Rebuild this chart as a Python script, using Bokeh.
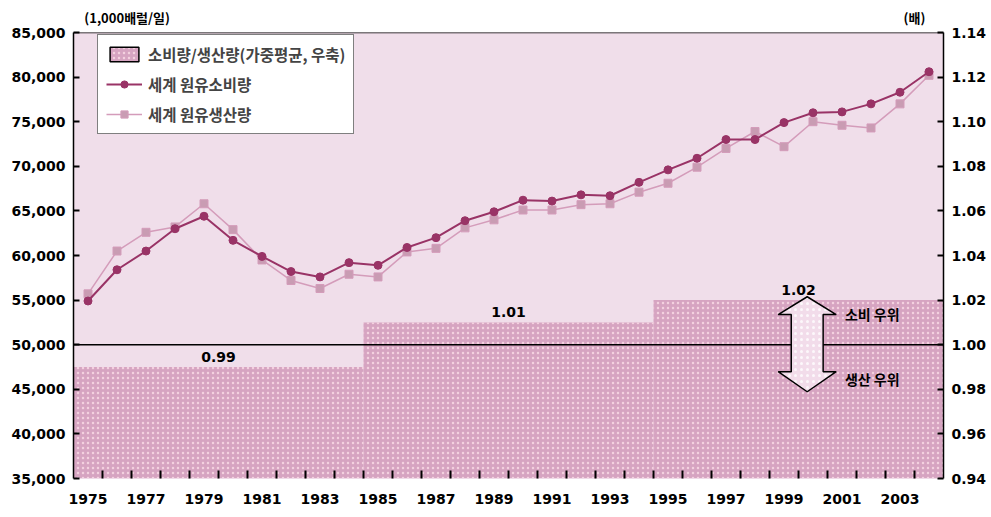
from bokeh.plotting import figure
from bokeh.models import (Range1d, LinearAxis, FixedTicker, NumeralTickFormatter, Span,
                          Label, Legend, LegendItem, ColumnDataSource)
from bokeh.core.properties import value
from bokeh.embed import file_html
from bokeh.resources import INLINE

# ---------------- data ----------------
years = list(range(1975, 2005))
consumption = [54900, 58400, 60500, 63000, 64400, 61700, 59900, 58200, 57600, 59200,
               58900, 60900, 62000, 63900, 64900, 66200, 66100, 66800, 66700, 68200,
               69600, 70900, 73000, 73000, 74900, 76000, 76100, 77000, 78300, 80600]
production = [55700, 60500, 62600, 63200, 65800, 62900, 59500, 57200, 56300, 57900,
              57600, 60400, 60800, 63100, 64000, 65100, 65100, 65700, 65800, 67100,
              68100, 69900, 72000, 73900, 72200, 75000, 74600, 74300, 77000, 80200]
decade_start = [1975, 1985, 1995]
decade_end = [1984, 1994, 2004]
ratio = [0.99, 1.01, 1.02]
ratio_labels = ["0.99", "1.01", "1.02"]
year_ticks = list(range(1975, 2004, 2))

LEGEND_BAR = "소비량/생산량(가중평균, 우축)"
LEGEND_CONS = "세계 원유소비량"
LEGEND_PROD = "세계 원유생산량"
UNIT_LEFT = "(1,000배럴/일)"
UNIT_RIGHT = "(배)"
TXT_CONS = "소비 우위"
TXT_PROD = "생산 우위"

# ---------------- styles ----------------
NUM_FONT = "DejaVu Sans"
KR_FONT = "Noto Sans CJK KR"
BG = "#F0DEEA"
BAR = "#D6A4C1"
BAR_DOT = "#F6D6E2"
CONS_C = "#993366"
PROD_C = "#D49CBA"
PROD_FILL = "#C99CB3"

x_lo, x_hi = years[0] - 0.5, years[-1] + 0.5
y_lo, y_hi = 35000, 85000
r_lo, r_hi = 0.94, 1.14

p = figure(width=989, height=512, x_range=Range1d(x_lo, x_hi), y_range=Range1d(y_lo, y_hi),
           output_backend="svg", toolbar_location=None,
           min_border_left=73, min_border_right=42, min_border_top=32, min_border_bottom=34)
p.extra_y_ranges = {"ratio": Range1d(r_lo, r_hi)}
p.extra_x_ranges = {"legend_only": Range1d(-10, -9)}
p.background_fill_color = BG
p.border_fill_color = "white"
p.outline_line_color = None
p.xgrid.visible = False
p.ygrid.visible = False

# ratio bars (right axis)
bar_src = ColumnDataSource(dict(
    left=[s - 0.5 for s in decade_start],
    right=[e + 0.5 for e in decade_end],
    top=ratio,
    bottom=[r_lo] * len(ratio),
    mid=[(s + e) / 2 for s, e in zip(decade_start, decade_end)],
    label=ratio_labels,
))
bars = p.quad(left="left", right="right", top="top", bottom="bottom", source=bar_src,
              y_range_name="ratio", fill_color=BAR, line_color=None,
              hatch_pattern="dot", hatch_color=BAR_DOT, hatch_scale=5, hatch_alpha=0.9)
bars.level = "image"

# same bars on an off-screen range: only used for the legend swatch (with outline)
swatch = p.quad(left="left", right="right", top="top", bottom="bottom", source=bar_src,
                y_range_name="ratio", x_range_name="legend_only",
                fill_color=BAR, line_color="black", line_width=1.5,
                hatch_pattern="dot", hatch_color=BAR_DOT, hatch_scale=5, hatch_alpha=0.9)

p.text(x="mid", y="top", text="label", source=bar_src, y_range_name="ratio",
       text_font=value(NUM_FONT), text_font_style="bold", text_font_size="14px",
       text_align="center", text_baseline="bottom", y_offset=-5, text_color="black")

# 1.00 reference line
one_line = Span(location=1.0, dimension="width", y_range_name="ratio",
                line_color="black", line_width=1.5, level="underlay")
p.add_layout(one_line)
top_line = Span(location=y_hi, dimension="width", line_color="black", line_width=1.5)
p.add_layout(top_line)

# double arrow (annotation)
ax = 1999.8
shaft_hw, head_hw = 0.55, 1.0
tip_top, base_top, base_bot, tip_bot = 1.0215, 1.0135, 0.9879, 0.9789
arr_x = [ax, ax + head_hw, ax + shaft_hw, ax + shaft_hw, ax + head_hw, ax,
         ax - head_hw, ax - shaft_hw, ax - shaft_hw, ax - head_hw]
arr_y = [tip_top, base_top, base_top, base_bot, base_bot, tip_bot,
         base_bot, base_bot, base_top, base_top]
p.patch(arr_x, arr_y, y_range_name="ratio", fill_color="#F2DCEA", line_color="black",
        line_width=1.5, hatch_pattern="dot", hatch_color="white", hatch_scale=6, hatch_alpha=0.8)

for txt, yy in [(TXT_CONS, 1.0139), (TXT_PROD, 0.9848)]:
    p.add_layout(Label(x=2001.1, y=yy, y_range_name="ratio", text=txt,
                       text_font=KR_FONT, text_font_style="bold", text_font_size="14px",
                       text_baseline="middle", text_align="left", text_color="black"))

# lines
src = ColumnDataSource(dict(year=years, cons=consumption, prod=production))
prod_line = p.line("year", "prod", source=src, line_color=PROD_C, line_width=1.5)
prod_pts = p.scatter("year", "prod", source=src, marker="square", size=8,
                     fill_color=PROD_FILL, line_color=PROD_C)
cons_line = p.line("year", "cons", source=src, line_color=CONS_C, line_width=2)
cons_pts = p.scatter("year", "cons", source=src, marker="circle", size=8,
                     fill_color=CONS_C, line_color=CONS_C)

legend = Legend(items=[LegendItem(label=LEGEND_BAR, renderers=[swatch], index=0),
                       LegendItem(label=LEGEND_CONS, renderers=[cons_line, cons_pts]),
                       LegendItem(label=LEGEND_PROD, renderers=[prod_line, prod_pts])],
                location=(24, 344))
legend.border_line_color = "black"
legend.border_line_width = 1.5
legend.background_fill_color = "white"
legend.background_fill_alpha = 1
legend.label_text_font = KR_FONT
legend.label_text_font_style = "bold"
legend.label_text_font_size = "15.5px"
legend.glyph_width = 36
legend.glyph_height = 18
legend.label_height = 20
legend.spacing = 8
legend.padding = 8
legend.margin = 0
legend.label_standoff = 6
p.add_layout(legend)

# axes
p.xaxis.ticker = FixedTicker(ticks=year_ticks, minor_ticks=[y + 0.5 for y in years[:-1]])
p.xaxis.axis_line_color = None
p.xaxis.major_tick_line_color = None
p.xaxis.minor_tick_in = 8
p.xaxis.minor_tick_out = 0
p.xaxis.minor_tick_line_color = "black"
p.xaxis.minor_tick_line_width = 2
p.xaxis.major_label_standoff = 9
p.xaxis.major_label_text_font = NUM_FONT
p.xaxis.major_label_text_font_style = "bold"
p.xaxis.major_label_text_font_size = "14px"
p.xaxis.major_label_text_color = "black"

p.yaxis.ticker = FixedTicker(ticks=list(range(y_lo, y_hi + 1, 5000)))
p.yaxis.formatter = NumeralTickFormatter(format="0,0")

ry = LinearAxis(y_range_name="ratio",
                ticker=FixedTicker(ticks=[round(r_lo + 0.02 * i, 2) for i in range(11)]),
                formatter=NumeralTickFormatter(format="0.00"))
p.add_layout(ry, "right")

for a in [p.yaxis[0], ry]:
    a.axis_line_color = "black"
    a.axis_line_width = 1.5
    a.major_tick_in = 6
    a.major_tick_out = 0
    a.major_tick_line_color = "black"
    a.major_tick_line_width = 2
    a.minor_tick_line_color = None
    a.major_label_standoff = 8
    a.major_label_text_font = NUM_FONT
    a.major_label_text_font_style = "bold"
    a.major_label_text_font_size = "14px"
    a.major_label_text_color = "black"

# unit labels: an invisible axis above the frame carrying two overridden labels
unit_pos = [1976.35, 2003.5]
top_axis = LinearAxis(ticker=FixedTicker(ticks=unit_pos, minor_ticks=[]),
                      major_label_overrides={unit_pos[0]: UNIT_LEFT, unit_pos[1]: UNIT_RIGHT})
top_axis.axis_line_color = None
top_axis.major_tick_line_color = None
top_axis.minor_tick_line_color = None
top_axis.major_tick_in = 0
top_axis.major_tick_out = 0
top_axis.minor_tick_in = 0
top_axis.minor_tick_out = 0
top_axis.major_label_standoff = 6
top_axis.major_label_text_font = KR_FONT
top_axis.major_label_text_font_style = "bold"
top_axis.major_label_text_font_size = "13px"
top_axis.major_label_text_color = "black"
p.add_layout(top_axis, "above")

open("out.html", "w").write(file_html(p, INLINE))
